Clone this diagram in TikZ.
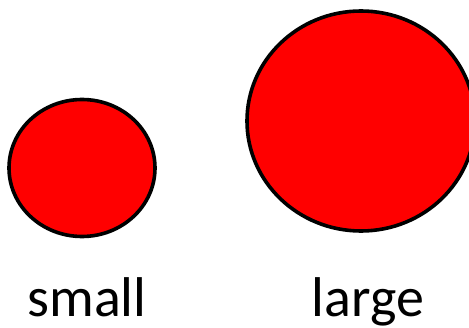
\documentclass[tikz,border=0pt]{standalone}
\usepackage{fontspec}
\setmainfont{Carlito}
\usetikzlibrary{shapes.geometric}
\begin{document}
\begin{tikzpicture}[
    x=1pt, y=1pt,
    every node/.style={font=\fontsize{56}{60}\selectfont},
    disc/.style={
        draw,
        ellipse,
        line width=3.6pt,
        fill=red,
        inner sep=0pt
    },
    sizelabel/.style={
        anchor=base,
        inner sep=0pt
    }
]
    \useasboundingbox (0,0) rectangle (469,327);
    \clip (0,0) rectangle (469,327);

    % Discs
    \node[
        disc,
        minimum width=146pt,
        minimum height=137pt
    ] (smalldisc) at (82,159) {};

    \node[
        disc,
        minimum width=228pt,
        minimum height=220pt
    ] (largedisc) at (361,206) {};

    % Labels below
    \node[sizelabel] (smalllabel) at (87,11) {small};
    \node[sizelabel] (largelabel) at (368,11) {large};

\end{tikzpicture}
\end{document}
